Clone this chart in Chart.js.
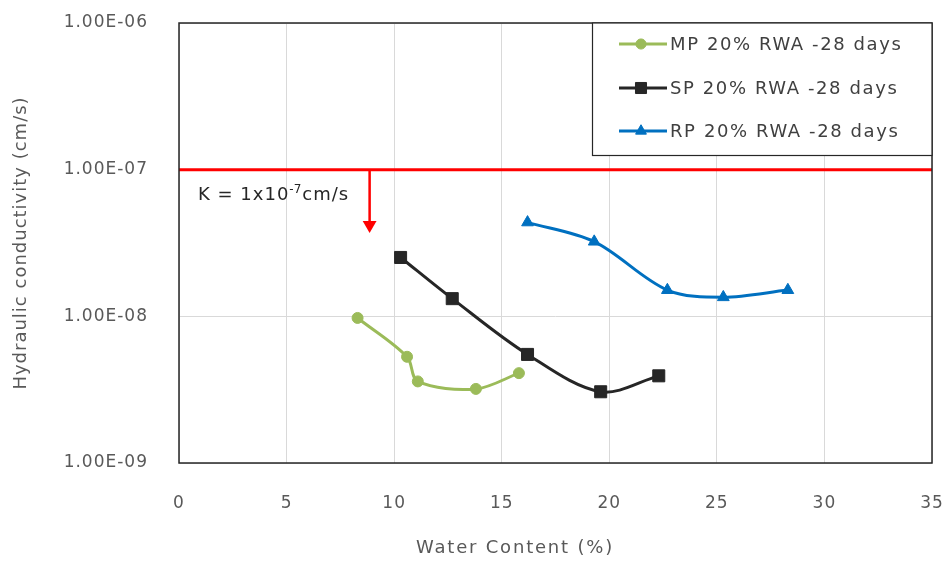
<!DOCTYPE html>
<html>
<head>
<meta charset="utf-8">
<script src="https://cdn.jsdelivr.net/npm/chart.js@4/dist/chart.umd.min.js"></script>
<style>
  html, body { margin: 0; padding: 0; background: #ffffff; }
  #wrap { width: 948px; height: 563px; }
</style>
</head>
<body>
<div id="wrap"><canvas id="chart" width="948" height="563"></canvas></div>
<script>
// Water content (%) and hydraulic conductivity (cm/s) for each mix
const mpWater = [8.3, 10.6, 11.1, 13.8, 15.8];
const mpK     = [9.75e-9, 5.3e-9, 3.6e-9, 3.2e-9, 4.1e-9];

const spWater = [10.3, 12.7, 16.2, 19.6, 22.3];
const spK     = [2.52e-8, 1.32e-8, 5.5e-9, 3.06e-9, 3.93e-9];

const rpWater = [16.2, 19.3, 22.7, 25.3, 28.3];
const rpK     = [4.37e-8, 3.23e-8, 1.51e-8, 1.35e-8, 1.51e-8];

const seriesNames = ['MP 20% RWA -28 days', 'SP 20% RWA -28 days', 'RP 20% RWA -28 days'];

// Permeability limit and the arrow that points below it
const kLimit = 1e-7;
const kLimitSpan = [0, 35];
const arrowX = 8.86;
const arrowEnd = 4.19e-8;
// Label pieces: base text, raised exponent, unit
const kLimitParts = ['K = 1x10', '-7', 'cm/s'];

// Axis ticks
const xTickValues = [0, 5, 10, 15, 20, 25, 30, 35];
const yTickValues = [1e-9, 1e-8, 1e-7, 1e-6];
const yTickLabels = ['1.00E-09', '1.00E-08', '1.00E-07', '1.00E-06'];

const xTitle = 'Water Content (%)';
const yTitle = 'Hydraulic conductivity (cm/s)';

const FONT = 'DejaVu Sans';
const toPoints = (xs, ys) => xs.map((x, i) => ({ x: x, y: ys[i] }));

// Slightly looser letter spacing for the axis text
const spacingPlugin = {
  id: 'spacing',
  beforeDraw(chart) { chart.ctx.letterSpacing = '1px'; },
  afterDraw(chart) { chart.ctx.letterSpacing = '0px'; }
};

// Frame around the plotting area
const framePlugin = {
  id: 'frame',
  afterDatasetsDraw(chart) {
    const { ctx, chartArea: a } = chart;
    ctx.save();
    ctx.strokeStyle = '#262626';
    ctx.lineWidth = 1.5;
    ctx.strokeRect(Math.round(a.left), Math.round(a.top), Math.round(a.right - a.left), Math.round(a.bottom - a.top));
    ctx.restore();
  }
};

// Limit label and x axis title
const labelsPlugin = {
  id: 'labels',
  afterDraw(chart) {
    const { ctx, chartArea: a, scales } = chart;
    ctx.save();
    ctx.textBaseline = 'alphabetic';
    ctx.textAlign = 'left';
    ctx.fillStyle = '#262626';
    ctx.letterSpacing = '1px';
    const base = scales.y.getPixelForValue(kLimit) + 30;
    let x = a.left + 19;
    ctx.font = '18px "' + FONT + '"';
    ctx.fillText(kLimitParts[0], x, base);
    x += ctx.measureText(kLimitParts[0]).width;
    ctx.font = '12px "' + FONT + '"';
    ctx.letterSpacing = '0px';
    ctx.fillText(kLimitParts[1], x, base - 7);
    x += ctx.measureText(kLimitParts[1]).width + 1;
    ctx.font = '18px "' + FONT + '"';
    ctx.letterSpacing = '1px';
    ctx.fillText(kLimitParts[2], x, base);

    ctx.fillStyle = '#595959';
    ctx.font = '18px "' + FONT + '"';
    ctx.textAlign = 'center';
    ctx.textBaseline = 'middle';
    ctx.letterSpacing = '1.8px';
    ctx.fillText(xTitle, 515, 548);
    ctx.restore();
  }
};

// Boxed legend in the upper right corner of the plot
const legendPlugin = {
  id: 'boxLegend',
  afterDraw(chart) {
    const { ctx, chartArea: a } = chart;
    const box = { left: 592.5, top: a.top, right: a.right, bottom: 155.5 };
    ctx.save();
    ctx.fillStyle = '#ffffff';
    ctx.fillRect(box.left, box.top, box.right - box.left, box.bottom - box.top);
    ctx.strokeStyle = '#262626';
    ctx.lineWidth = 1.2;
    ctx.strokeRect(box.left, box.top, box.right - box.left, box.bottom - box.top);
    const rows = [44, 88, 131];
    seriesNames.forEach((name, i) => {
      const ds = chart.data.datasets[i];
      const y = rows[i];
      ctx.strokeStyle = ds.borderColor;
      ctx.lineWidth = ds.borderWidth;
      ctx.beginPath();
      ctx.moveTo(619, y);
      ctx.lineTo(667, y);
      ctx.stroke();
      ctx.fillStyle = ds.backgroundColor;
      ctx.lineWidth = 1;
      Chart.helpers.drawPoint(ctx, { pointStyle: ds.pointStyle, radius: ds.pointRadius * 0.92, borderWidth: 1, rotation: 0 }, 641, y);
      ctx.fillStyle = '#404040';
      ctx.font = '18px "' + FONT + '"';
      ctx.textAlign = 'left';
      ctx.textBaseline = 'middle';
      ctx.letterSpacing = '1.6px';
      ctx.fillText(name, 670, y + 1);
      ctx.letterSpacing = '0px';
    });
    ctx.restore();
  }
};

const series = (label, xs, ys, color, style, radius) => ({
  label: label,
  data: toPoints(xs, ys),
  borderColor: color,
  backgroundColor: color,
  borderWidth: 3,
  pointStyle: style,
  pointRadius: radius,
  pointHoverRadius: radius,
  pointBorderWidth: 1,
  tension: 0.33,
  fill: false
});

new Chart(document.getElementById('chart'), {
  type: 'scatter',
  data: {
    datasets: [
      series(seriesNames[0], mpWater, mpK, '#9bbb59', 'circle', 5.5),
      series(seriesNames[1], spWater, spK, '#262626', 'rect', 8.5),
      series(seriesNames[2], rpWater, rpK, '#0070c0', 'triangle', 6.8),
      {
        label: 'K limit',
        data: kLimitSpan.map(x => ({ x: x, y: kLimit })),
        borderColor: '#ff0000',
        backgroundColor: '#ff0000',
        borderWidth: 3,
        pointRadius: 0
      },
      {
        label: 'K limit arrow',
        data: [{ x: arrowX, y: kLimit }, { x: arrowX, y: arrowEnd }],
        borderColor: '#ff0000',
        backgroundColor: '#ff0000',
        borderWidth: 2.5,
        pointStyle: 'triangle',
        rotation: 180,
        pointRadius: [0, 8],
        pointBorderWidth: 0
      }
    ].map(d => Object.assign({ showLine: true }, d))
  },
  options: {
    responsive: false,
    animation: false,
    devicePixelRatio: 1,
    layout: { padding: { left: 0, top: 23, right: 16, bottom: 0 } },
    plugins: {
      legend: { display: false },
      tooltip: { enabled: false }
    },
    scales: {
      x: {
        type: 'linear',
        min: 0,
        max: 35,
        afterFit(scale) { scale.height = 100; },
        afterBuildTicks(scale) { scale.ticks = xTickValues.map(v => ({ value: v })); },
        ticks: {
          padding: 0,
          color: '#595959',
          font: { family: FONT, size: 17 },
          callback: v => String(v)
        },
        grid: { color: '#d9d9d9', lineWidth: 1, drawTicks: true, tickLength: 30, tickColor: 'rgba(0,0,0,0)' },
        border: { display: false }
      },
      y: {
        type: 'logarithmic',
        min: 1e-9,
        max: 1e-6,
        afterFit(scale) { scale.width = 179; },
        afterBuildTicks(scale) { scale.ticks = yTickValues.map(v => ({ value: v })); },
        ticks: {
          padding: 0,
          color: '#595959',
          font: { family: FONT, size: 17 },
          callback: v => yTickLabels[yTickValues.indexOf(v)]
        },
        grid: { color: '#d9d9d9', lineWidth: 1, drawTicks: true, tickLength: 31, tickColor: 'rgba(0,0,0,0)' },
        border: { display: false },
        title: {
          display: true,
          text: yTitle,
          color: '#595959',
          font: { family: FONT, size: 18 },
          padding: { top: 11, bottom: 0 }
        }
      }
    }
  },
  plugins: [spacingPlugin, framePlugin, labelsPlugin, legendPlugin]
});
</script>
</body>
</html>
